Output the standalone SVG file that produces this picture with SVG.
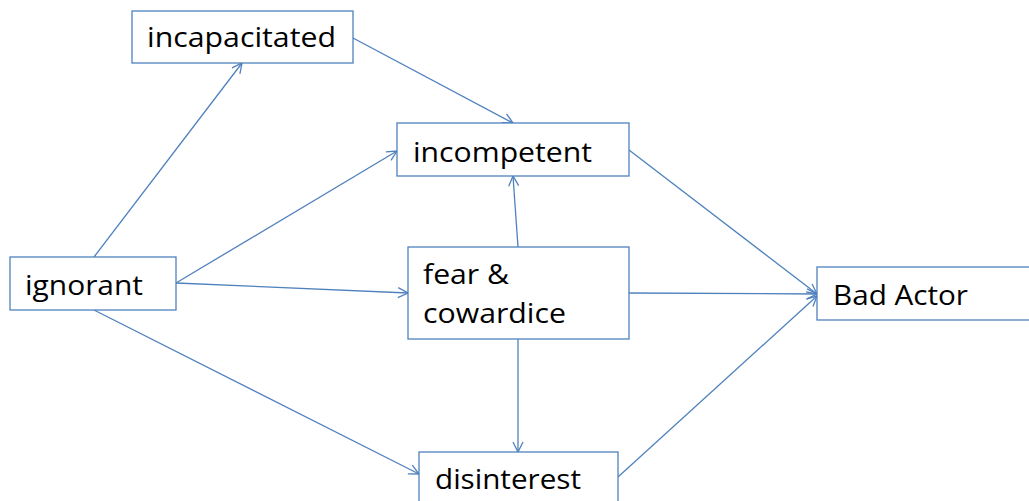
<svg xmlns="http://www.w3.org/2000/svg" width="1029" height="501" viewBox="0 0 1029 501">
<style>
.box{fill:#fff;stroke:#4f81bd;stroke-width:1.3}
.lbl{font-family:"Open Sans","Liberation Sans",sans-serif;font-size:27px;fill:#000}
.edge{stroke:#4f81bd;stroke-width:1.3;fill:none;marker-end:url(#arr)}
</style>
<defs>
<marker id="arr" viewBox="0 0 12 12" refX="11" refY="6" markerWidth="12" markerHeight="12" markerUnits="userSpaceOnUse" orient="auto">
<path d="M1,1 L11,6 L1,11" fill="none" stroke="#4f81bd" stroke-width="1.3"/>
</marker>
</defs>
<rect width="1029" height="501" fill="#fff"/>
<g id="connectors">
<line class="edge" x1="94" y1="257" x2="242" y2="63"/>
<line class="edge" x1="353" y1="38" x2="513" y2="123"/>
<line class="edge" x1="176" y1="283" x2="397" y2="151"/>
<line class="edge" x1="176" y1="283" x2="408" y2="293"/>
<line class="edge" x1="94" y1="310" x2="419" y2="474"/>
<line class="edge" x1="518" y1="247" x2="513" y2="176"/>
<line class="edge" x1="518" y1="339" x2="518" y2="452"/>
<line class="edge" x1="629" y1="150" x2="817" y2="294"/>
<line class="edge" x1="629" y1="293" x2="817" y2="294"/>
<line class="edge" x1="618" y1="477" x2="817" y2="296"/>
</g>
<g id="incapacitated">
<rect class="box" x="132" y="11" width="221" height="52"/>
<text class="lbl" x="147" y="47" textLength="189" lengthAdjust="spacingAndGlyphs">incapacitated</text>
</g>
<g id="incompetent">
<rect class="box" x="397" y="123" width="232" height="53"/>
<text class="lbl" x="413" y="162" textLength="179" lengthAdjust="spacingAndGlyphs">incompetent</text>
</g>
<g id="ignorant">
<rect class="box" x="10" y="257" width="166" height="53"/>
<text class="lbl" x="25" y="295" textLength="118" lengthAdjust="spacingAndGlyphs">ignorant</text>
</g>
<g id="fear">
<rect class="box" x="408" y="247" width="221" height="92"/>
<text class="lbl" x="423" y="284" textLength="86" lengthAdjust="spacingAndGlyphs">fear &amp;</text>
<text class="lbl" x="423" y="323" textLength="143" lengthAdjust="spacingAndGlyphs">cowardice</text>
</g>
<g id="badactor">
<rect class="box" x="817" y="267" width="220" height="53"/>
<text class="lbl" x="833" y="305" textLength="135" lengthAdjust="spacingAndGlyphs">Bad Actor</text>
</g>
<g id="disinterest">
<rect class="box" x="419" y="452" width="199" height="60"/>
<text class="lbl" x="435" y="489" textLength="146" lengthAdjust="spacingAndGlyphs">disinterest</text>
</g>
</svg>
